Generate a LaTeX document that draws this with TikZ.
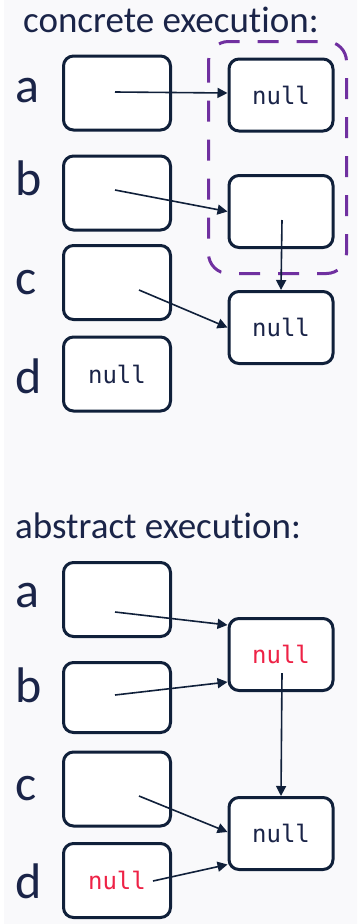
\documentclass[tikz,border=0pt]{standalone}
\usepackage{fontspec}
\setmainfont{Carlito}[Ligatures={NoCommon,NoContextual,NoRare},Contextuals=NoAlternate]
\newfontfamily\codefont{DejaVu Sans Mono}
\usetikzlibrary{arrows.meta}

\definecolor{ink}{RGB}{16,32,58}
\definecolor{txt}{RGB}{26,36,72}
\definecolor{grp}{RGB}{112,48,160}
\definecolor{nullred}{RGB}{238,34,70}
\definecolor{bgtop}{RGB}{226,230,243}
\definecolor{bgmid}{RGB}{249,249,251}
\definecolor{bgbot}{RGB}{247,247,247}
\pgfdeclareverticalshading{pagebg}{357pt}{color(0pt)=(bgbot); color(480pt)=(bgmid); color(924pt)=(bgtop)}

\begin{document}
\begin{tikzpicture}[x=1pt,y=-1pt,
  cell/.style={draw=ink,line width=3pt,rounded corners=10pt,fill=white,inner sep=0pt,
    minimum width=107pt,minimum height=74pt},
  target/.style={cell,minimum width=104pt,minimum height=72pt},
  nulltext/.style={font=\codefont\fontsize{24pt}{28pt}\selectfont,text=txt},
  rednull/.style={font=\codefont\fontsize{24pt}{28pt}\selectfont,text=nullred},
  varname/.style={anchor=base west,inner sep=0pt,text=txt,font=\fontsize{50pt}{60pt}\selectfont},
  heading/.style={anchor=base west,inner sep=0pt,text=txt,font=\fontsize{37pt}{44pt}\selectfont},
  link/.style={draw=ink,line width=1.6pt,-{Triangle[length=10pt,width=10pt]}},
  group/.style={draw=grp,line width=3pt,rounded corners=20pt,dash pattern=on 21pt off 18pt}]

\useasboundingbox (0,0) rectangle (357,924);
\fill[shading=pagebg] (0,0) rectangle (357,924);
\fill[white] (0,0) rectangle (4,924);

% ---------- concrete execution ----------
\node[heading] (t1) at (23,32) {concrete execu\kern0pt tion:};

\node[varname] (la1) at (15,102) {a};
\node[varname] (lb1) at (15,195) {b};
\node[varname] (lc1) at (15,294) {c};
\node[varname] (ld1) at (15,393) {d};

\node[cell] (A1) at (117,93) {};
\node[cell] (A2) at (117,193) {};
\node[cell] (A3) at (117,282.5) {};
\node[cell,nulltext] (A4) at (117,374) {null};

\node[target,nulltext] (R1) at (281,95) {null};
\node[target] (R2) at (281,211.5) {};
\node[target,nulltext] (R3) at (281,327.5) {null};

\draw[group] (208.5,41.5) rectangle (346.5,273.5);

\draw[link] ([shift={(-2,-1)}]A1.center) -- ([shift={(0,-2)}]R1.west);
\draw[link] ([shift={(-2,-3)}]A2.center) -- (R2.west);
\draw[link] ([shift={(22,7.5)}]A3.center) -- (R3.west);
\draw[link] ([shift={(1,8.5)}]R2.center) -- (R3.north);

% ---------- abstract execution ----------
\node[heading] (t2) at (15,538) {abstract execu\kern0pt tion:};

\node[varname] (la2) at (15,607) {a};
\node[varname] (lb2) at (15,702) {b};
\node[varname] (lc2) at (15,800) {c};
\node[varname] (ld2) at (15,898) {d};

\node[cell] (B1) at (117,599.5) {};
\node[cell,minimum height=70pt] (B2) at (117,697.5) {};
\node[cell] (B3) at (117,789) {};
\node[cell,rednull] (B4) at (117,880.5) {null};

\node[target,rednull] (S1) at (281,654.5) {null};
\node[target,nulltext] (S2) at (281,833.5) {null};

\draw[link] ([shift={(-2,12.5)}]B1.center) -- ([shift={(0,-29.5)}]S1.west);
\draw[link] ([shift={(-2,-2.5)}]B2.center) -- ([shift={(0,27.5)}]S1.west);
\draw[link] ([shift={(1,18.5)}]S1.center) -- (S2.north);
\draw[link] ([shift={(22,7)}]B3.center) -- ([shift={(0,-1.5)}]S2.west);
\draw[link] ([shift={(36,0.5)}]B4.center) -- ([shift={(0,31)}]S2.west);

\end{tikzpicture}
\end{document}
